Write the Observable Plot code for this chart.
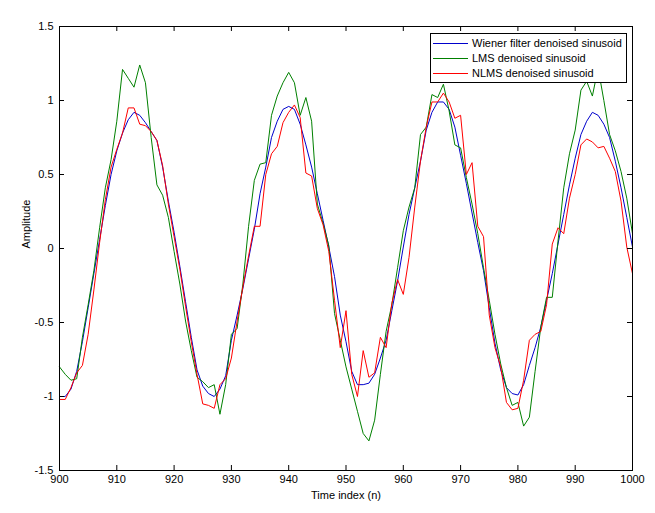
<!DOCTYPE html>
<html>
<head>
<meta charset="utf-8">
<script src="https://cdn.jsdelivr.net/npm/d3@7"></script>
<script src="https://cdn.jsdelivr.net/npm/@observablehq/plot@0.6"></script>
<style>
  body { margin: 0; background: #fff; }
  #wrap { position: relative; width: 655px; height: 513px; font-family: "Liberation Sans", Arial, sans-serif; }
  #legend { position: absolute; left: 430px; top: 33px; width: 197px; height: 50px; background: #fff; border: 1px solid #000; box-sizing: border-box; }
</style>
</head>
<body>
<div id="wrap"><div id="chart"></div><div id="legend"></div></div>
<script>
const n = d3.range(900, 1001);
const wiener = [
 -1.00,-1.00,-0.95,-0.83,-0.63,-0.40,-0.17,0.06,0.29,0.50,
 0.66,0.78,0.87,0.92,0.90,0.85,0.79,0.73,0.55,0.32,
 0.11,-0.12,-0.36,-0.60,-0.82,-0.93,-0.98,-1.00,-0.95,-0.86,
 -0.62,-0.45,-0.27,-0.07,0.13,0.37,0.55,0.75,0.86,0.94,
 0.96,0.94,0.84,0.70,0.55,0.37,0.19,0.01,-0.19,-0.45,
 -0.63,-0.83,-0.92,-0.92,-0.91,-0.85,-0.74,-0.62,-0.42,-0.22,
 0.01,0.23,0.41,0.59,0.80,0.92,0.99,0.99,0.94,0.82,
 0.63,0.44,0.24,0.04,-0.15,-0.40,-0.64,-0.82,-0.94,-0.98,
 -0.99,-0.92,-0.79,-0.67,-0.53,-0.35,-0.17,0.03,0.23,0.43,
 0.61,0.77,0.86,0.92,0.90,0.84,0.75,0.59,0.41,0.21,
 0.01];
const lms = [
 -0.80,-0.85,-0.89,-0.88,-0.60,-0.38,-0.15,0.14,0.41,0.60,
 0.86,1.21,1.15,1.09,1.24,1.12,0.75,0.43,0.36,0.21,
 -0.02,-0.24,-0.49,-0.69,-0.87,-0.90,-0.94,-0.92,-1.12,-0.92,
 -0.58,-0.54,-0.24,0.15,0.46,0.57,0.58,0.90,1.03,1.12,
 1.19,1.12,0.90,1.02,0.86,0.30,0.17,0.02,-0.44,-0.62,
 -0.80,-0.95,-1.10,-1.25,-1.30,-1.16,-0.85,-0.56,-0.38,-0.13,
 0.12,0.28,0.41,0.77,0.82,1.04,1.02,1.11,0.93,0.70,
 0.68,0.48,0.30,0.10,-0.13,-0.35,-0.58,-0.78,-0.94,-1.06,
 -1.04,-1.20,-1.14,-0.83,-0.53,-0.33,-0.33,0.05,0.41,0.64,
 0.80,1.07,1.13,1.03,1.22,1.00,0.77,0.66,0.52,0.34,
 0.10];
const nlms = [
 -1.02,-1.02,-0.94,-0.84,-0.79,-0.58,-0.28,0.04,0.33,0.55,
 0.67,0.78,0.95,0.95,0.84,0.83,0.79,0.73,0.56,0.30,
 0.08,-0.14,-0.39,-0.63,-0.85,-1.05,-1.06,-1.08,-0.92,-0.88,
 -0.74,-0.49,-0.26,-0.05,0.15,0.15,0.50,0.64,0.69,0.85,
 0.92,0.97,0.885,0.51,0.49,0.27,0.16,-0.02,-0.35,-0.67,
 -0.42,-0.85,-1.00,-0.69,-0.87,-0.84,-0.60,-0.67,-0.37,-0.21,
 -0.31,-0.06,0.28,0.59,0.82,0.99,0.99,1.05,0.99,0.88,
 0.90,0.50,0.58,0.15,0.08,-0.45,-0.67,-0.80,-1.04,-1.09,
 -1.08,-0.89,-0.62,-0.58,-0.56,-0.38,0.03,0.14,0.10,0.34,
 0.50,0.70,0.74,0.72,0.68,0.69,0.61,0.52,0.32,0.01,
 -0.17];
const xTicks = [900,910,920,930,940,950,960,970,980,990,1000];
const yTicks = [-1.5,-1,-0.5,0,0.5,1,1.5];
const seriesNames = ["Wiener filter denoised sinusoid","LMS denoised sinusoid","NLMS denoised sinusoid"];
const seriesColors = ["#0000cc","#008000","#ff0000"];

const rows = [];
[wiener, lms, nlms].forEach((vals, k) => vals.forEach((v, i) => rows.push({n: n[i], v, s: seriesNames[k]})));

const W = 655, H = 513, mL = 59, mR = 23, mT = 26, mB = 43;
const iW = W - mL - mR, iH = H - mT - mB, tk = 5;
const font = "11px";

const chart = Plot.plot({
  width: W, height: H,
  marginLeft: mL, marginRight: mR, marginTop: mT, marginBottom: mB,
  style: {fontFamily: '"Liberation Sans", Arial, sans-serif', fontSize: font, color: "#000", background: "#fff"},
  x: {domain: [900, 1000]},
  y: {domain: [-1.5, 1.5]},
  color: {domain: seriesNames, range: seriesColors},
  marks: [
    Plot.line(rows, {x: "n", y: "v", z: "s", stroke: "s", strokeWidth: 1}),
    Plot.frame({stroke: "#000", strokeWidth: 1}),
    Plot.ruleX(xTicks, {x: d => d, insetTop: iH - tk, stroke: "#000"}),
    Plot.ruleX(xTicks, {x: d => d, insetBottom: iH - tk, stroke: "#000"}),
    Plot.ruleY(yTicks, {y: d => d, insetRight: iW - tk, stroke: "#000"}),
    Plot.ruleY(yTicks, {y: d => d, insetLeft: iW - tk, stroke: "#000"}),
    Plot.axisX(xTicks, {tickSize: 0, tickPadding: 5, tickFormat: d => String(d), label: null, fontSize: 11}),
    Plot.axisY(yTicks, {tickSize: 0, tickPadding: 6, tickFormat: d => String(d), label: null, fontSize: 11}),
    Plot.text(["Time index (n)"], {frameAnchor: "bottom", dy: 25, lineAnchor: "middle", fontSize: 11, fill: "#000"}),
    Plot.text(["Amplitude"], {frameAnchor: "left", dx: -33, rotate: -90, lineAnchor: "middle", fontSize: 11, fill: "#000"})
  ]
});
document.getElementById("chart").appendChild(chart);

const leg = d3.select("#legend").append("svg").attr("width", 195).attr("height", 48)
  .style("font-family", '"Liberation Sans", Arial, sans-serif').style("font-size", "11px");
seriesNames.forEach((name, i) => {
  const y = 9 + i * 15;
  leg.append("line").attr("x1", 2).attr("x2", 37).attr("y1", y + 0.5).attr("y2", y + 0.5).attr("stroke", seriesColors[i]);
  leg.append("text").attr("x", 41).attr("y", y).attr("dy", "0.35em").text(name);
});
</script>
</body>
</html>
